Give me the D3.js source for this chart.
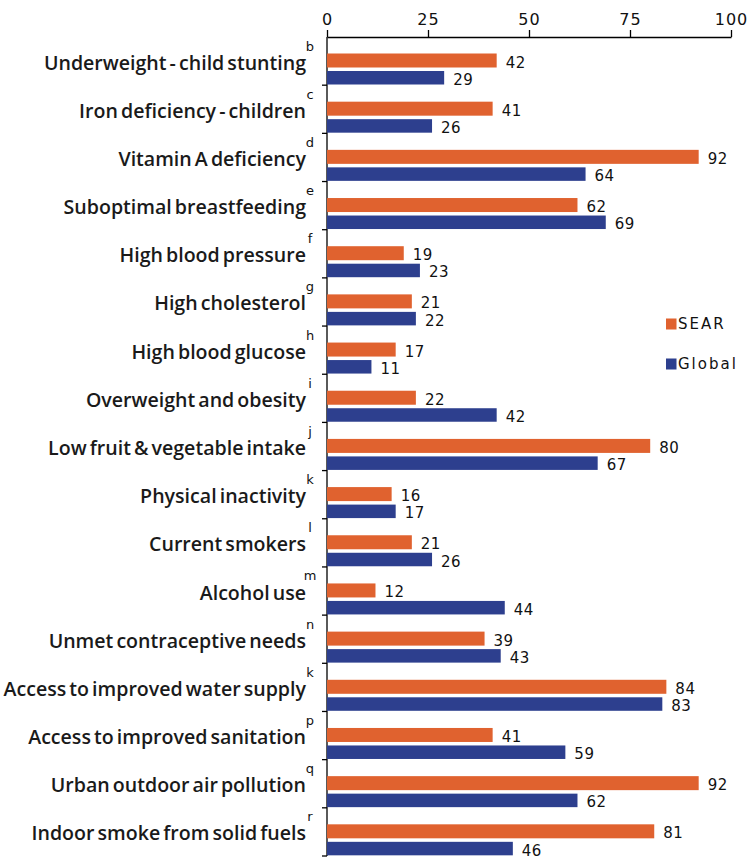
<!DOCTYPE html>
<html>
<head>
<meta charset="utf-8">
<script src="https://cdn.jsdelivr.net/npm/d3@7"></script>
<style>
  html, body { margin: 0; padding: 0; background: #fff; }
  svg { display: block; }
</style>
</head>
<body>
<div id="chart"></div>
<script>
const categories = [
  "Underweight - child stunting",
  "Iron deficiency - children",
  "Vitamin A deficiency",
  "Suboptimal breastfeeding",
  "High blood pressure",
  "High cholesterol",
  "High blood glucose",
  "Overweight and obesity",
  "Low fruit & vegetable intake",
  "Physical inactivity",
  "Current smokers",
  "Alcohol use",
  "Unmet contraceptive needs",
  "Access to improved water supply",
  "Access to improved sanitation",
  "Urban outdoor air pollution",
  "Indoor smoke from solid fuels"
];
const footnotes = ["b","c","d","e","f","g","h","i","j","k","l","m","n","k","p","q","r"];
const searValues   = [42, 41, 92, 62, 19, 21, 17, 22, 80, 16, 21, 12, 39, 84, 41, 92, 81];
const globalValues = [29, 26, 64, 69, 23, 22, 11, 42, 67, 17, 26, 44, 43, 83, 59, 62, 46];
const seriesNames = ["SEAR", "Global"];
const xTicks = [0, 25, 50, 75, 100];

const W = 750, H = 860;
const colors = { SEAR: "#E0622F", Global: "#2D3F8E" };

const svg = d3.select("#chart").append("svg")
  .attr("width", W).attr("height", H);

const x = d3.scaleLinear().domain([0, 100]).range([327, 731]);
const y = d3.scaleBand().domain(categories).range([37, 856]).padding(0);
const step = y.step();

// top axis
const xAxis = d3.axisTop(x).tickValues(xTicks).tickSize(7).tickSizeOuter(0).tickPadding(5);
const gx = svg.append("g").attr("transform", "translate(0,37)").call(xAxis);
gx.select(".domain").attr("stroke", "#000").attr("stroke-width", 1.3);
gx.selectAll(".tick line").attr("stroke", "#000").attr("stroke-width", 1.3);
gx.selectAll(".tick text")
  .attr("font-family", "'DejaVu Sans', Verdana, sans-serif")
  .attr("font-size", 16).attr("letter-spacing", 1).attr("fill", "#111");

// left axis line with band separators
const gy = svg.append("g");
gy.append("line")
  .attr("x1", x(0)).attr("x2", x(0))
  .attr("y1", 37).attr("y2", 856)
  .attr("stroke", "#000").attr("stroke-width", 1.3);
const bounds = categories.map(c => y(c)).concat([y(categories[categories.length - 1]) + step]);
gy.selectAll("line.sep").data(bounds.slice(1)).enter().append("line")
  .attr("class", "sep")
  .attr("x1", x(0) - 5).attr("x2", x(0))
  .attr("y1", d => d).attr("y2", d => d)
  .attr("stroke", "#000").attr("stroke-width", 1.3);

const rows = categories.map((c, i) => ({ c, i, sear: searValues[i], global: globalValues[i], fn: footnotes[i] }));

const g = svg.append("g");
const searOff = 16.5, searH = 14, globOff = 34, globH = 13.5;
g.selectAll("rect.sear").data(rows).enter().append("rect")
  .attr("class", "sear")
  .attr("x", x(0)).attr("y", d => y(d.c) + searOff)
  .attr("width", d => x(d.sear) - x(0)).attr("height", searH)
  .attr("fill", colors.SEAR);
g.selectAll("rect.global").data(rows).enter().append("rect")
  .attr("class", "global")
  .attr("x", x(0)).attr("y", d => y(d.c) + globOff)
  .attr("width", d => x(d.global) - x(0)).attr("height", globH)
  .attr("fill", colors.Global);

// value labels
const valFont = "'DejaVu Sans', Verdana, sans-serif";
g.selectAll("text.vs").data(rows).enter().append("text")
  .attr("x", d => x(d.sear) + 9).attr("y", d => y(d.c) + searOff + searH / 2 + 2)
  .attr("dominant-baseline", "central")
  .attr("font-family", valFont).attr("font-size", 15).attr("letter-spacing", 0.5).attr("fill", "#111")
  .text(d => d.sear);
g.selectAll("text.vg").data(rows).enter().append("text")
  .attr("x", d => x(d.global) + 9).attr("y", d => y(d.c) + globOff + globH / 2 + 2)
  .attr("dominant-baseline", "central")
  .attr("font-family", valFont).attr("font-size", 15).attr("letter-spacing", 0.5).attr("fill", "#111")
  .text(d => d.global);

// category labels
const labels = g.selectAll("text.cat").data(rows).enter().append("text")
  .attr("class", "cat")
  .attr("x", 306).attr("y", d => y(d.c) + step / 2 + 1)
  .attr("text-anchor", "end").attr("dominant-baseline", "central")
  .attr("font-family", "'Open Sans', Lato, sans-serif").attr("font-weight", 600)
  .attr("font-size", 16).attr("fill", "#1a1a1a")
  .attr("word-spacing", -2)
  .text(d => d.c);
// fit font size so the longest label spans ~301px like the reference
let maxW = 0;
labels.each(function() { maxW = Math.max(maxW, this.getComputedTextLength()); });
const fitSize = 16 * 301 / maxW;
labels.attr("font-size", fitSize);

// footnote letters
g.selectAll("text.fn").data(rows).enter().append("text")
  .attr("x", 310).attr("y", d => y(d.c) + 9)
  .attr("text-anchor", "middle").attr("dominant-baseline", "central")
  .attr("font-family", "'DejaVu Sans', sans-serif").attr("font-size", 13).attr("fill", "#111")
  .text(d => d.fn);

// legend
const legend = svg.append("g");
const legY = [324, 364];
seriesNames.forEach((s, i) => {
  legend.append("rect").attr("x", 666).attr("y", legY[i] - 5.5).attr("width", 10.5).attr("height", 11)
    .attr("fill", colors[s]);
  legend.append("text").attr("x", 678).attr("y", legY[i])
    .attr("dominant-baseline", "central")
    .attr("font-family", "'DejaVu Sans', Verdana, sans-serif").attr("font-size", 15)
    .attr("letter-spacing", 2).attr("fill", "#111")
    .text(s);
});
</script>
</body>
</html>
